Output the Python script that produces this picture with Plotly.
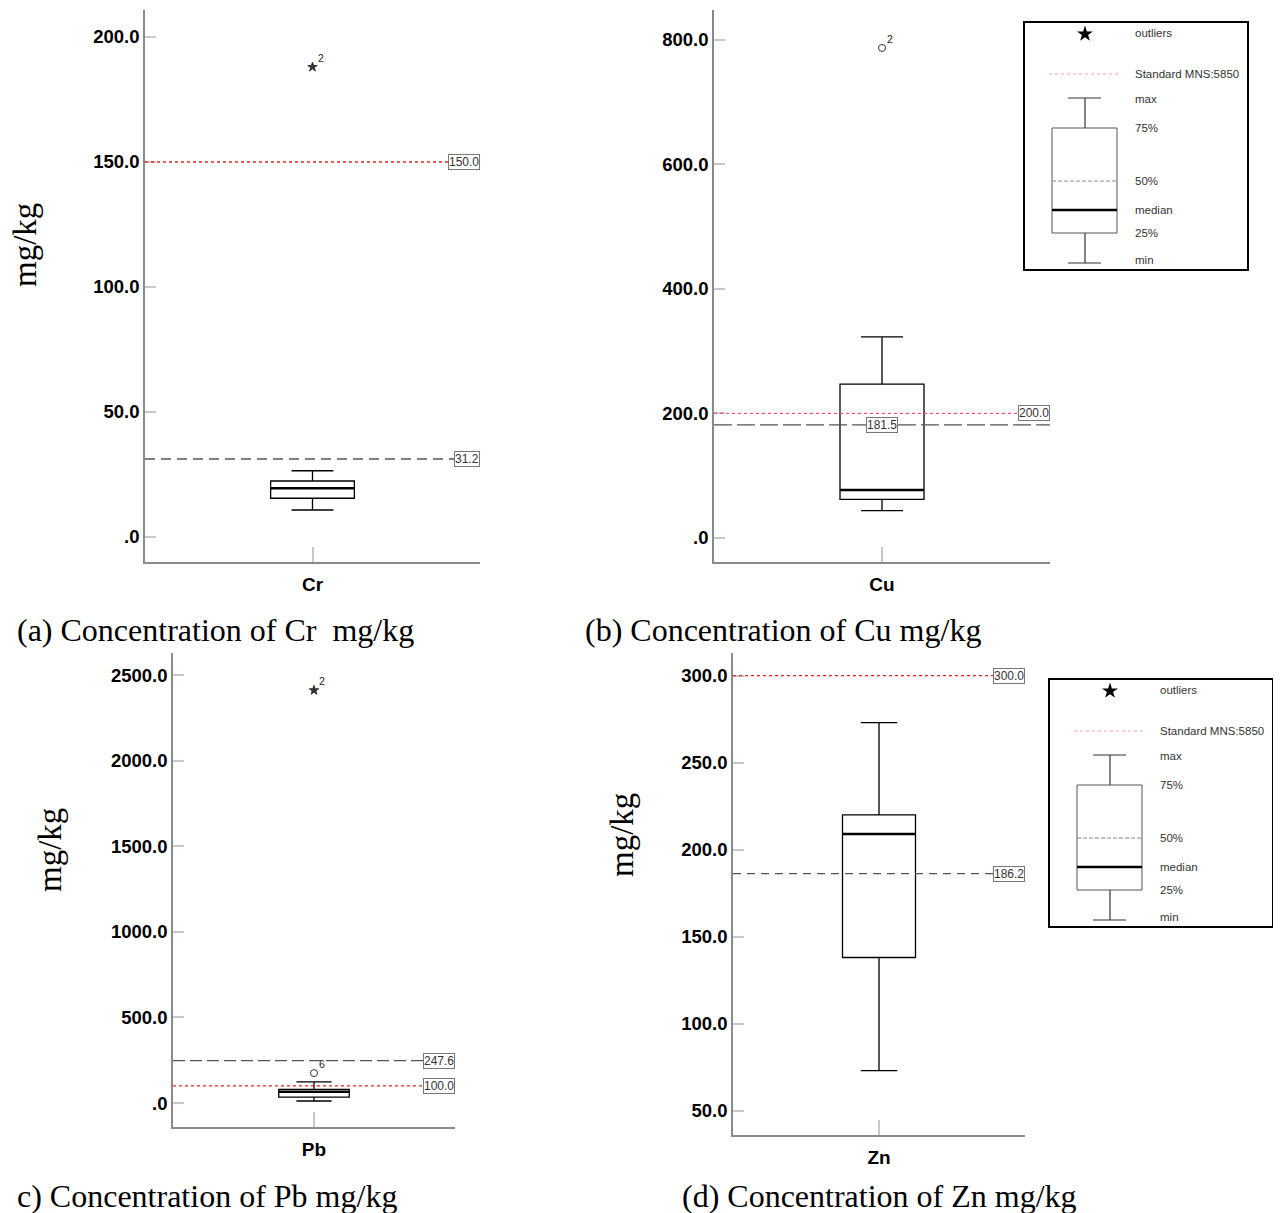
import plotly.graph_objects as go

W, H = 1281, 1213
PAGE_OFFSET = 8  # default body margin of the html page

# ---------------- data ----------------
elements = ["Cr", "Cu", "Pb", "Zn"]
q1_vals = [15.5, 62.0, 35.0, 138.0]
median_vals = [19.5, 77.0, 66.0, 209.0]
q3_vals = [22.4, 247.0, 80.0, 220.0]
lower_vals = [10.8, 44.0, 12.0, 73.0]
upper_vals = [26.5, 323.0, 124.0, 273.0]
standard_vals = [150.0, 200.0, 100.0, 300.0]
mean_vals = [31.2, 181.5, 247.6, 186.2]

cr_outliers = [188.0]
cu_outliers = [787.0]
pb_outliers = [2412.0, 175.0]
zn_outliers = []
outliers = [cr_outliers, cu_outliers, pb_outliers, zn_outliers]
outlier_case_ids = [["2"], ["2"], ["2", "6"], []]
outlier_kinds = [["star"], ["circle"], ["star", "circle"], []]

cr_ticks = [0, 50, 100, 150, 200]
cr_tick_labels = [".0", "50.0", "100.0", "150.0", "200.0"]
cu_ticks = [0, 200, 400, 600, 800]
cu_tick_labels = [".0", "200.0", "400.0", "600.0", "800.0"]
pb_ticks = [0, 500, 1000, 1500, 2000, 2500]
pb_tick_labels = [".0", "500.0", "1000.0", "1500.0", "2000.0", "2500.0"]
zn_ticks = [50, 100, 150, 200, 250, 300]
zn_tick_labels = ["50.0", "100.0", "150.0", "200.0", "250.0", "300.0"]
tick_sets = [(cr_ticks, cr_tick_labels), (cu_ticks, cu_tick_labels),
             (pb_ticks, pb_tick_labels), (zn_ticks, zn_tick_labels)]

captions = ["(a) Concentration of Cr\u00a0\u00a0mg/kg", "(b) Concentration of Cu mg/kg",
            "c) Concentration of Pb mg/kg", "(d) Concentration of Zn mg/kg"]

# ---------------- layout (pixel geometry) ----------------
panels = [
    dict(x=(145, 480), y=(10, 562), yr=(-10.0, 210.8), std_color="#e8201c",
         mean_dash="10px,6px", mean_label_center=False),
    dict(x=(714, 1050), y=(10, 562), yr=(-38.6, 848.0), std_color="#ff4f7b",
         mean_dash="18px,5px", mean_label_center=True),
    dict(x=(173, 455), y=(653, 1127), yr=(-140.0, 2630.0), std_color="#e8201c",
         mean_dash="12px,5px", mean_label_center=False),
    dict(x=(733, 1025), y=(653, 1135), yr=(36.0, 313.0), std_color="#e8201c",
         mean_dash="8px,6px", mean_label_center=False),
]


def px(x):
    return (x - PAGE_OFFSET) / W


def py(y):
    return 1 - (y - PAGE_OFFSET) / H


BOX_W = 0.5
fig = go.Figure()
shapes = []
annotations = []
layout_axes = {}

for i, el in enumerate(elements):
    n = i + 1
    xa = "x" if n == 1 else f"x{n}"
    ya = "y" if n == 1 else f"y{n}"
    p = panels[i]
    fig.add_trace(go.Box(
        x=[0], q1=[q1_vals[i]], median=[median_vals[i]], q3=[q3_vals[i]],
        lowerfence=[lower_vals[i]], upperfence=[upper_vals[i]],
        width=BOX_W, whiskerwidth=0.5, fillcolor="white",
        line=dict(color="black", width=1.3), boxpoints=False,
        xaxis=xa, yaxis=ya, showlegend=False, hoverinfo="skip"))
    # thick median line
    shapes.append(dict(type="line", xref=xa, yref=ya, x0=-BOX_W / 2, x1=BOX_W / 2,
                       y0=median_vals[i], y1=median_vals[i],
                       line=dict(color="black", width=2.6)))
    # outliers
    for v, cid, kind in zip(outliers[i], outlier_case_ids[i], outlier_kinds[i]):
        fig.add_trace(go.Scatter(
            x=[0], y=[v], mode="markers",
            marker=dict(symbol="star" if kind == "star" else "circle-open",
                        size=7, color="#333", line=dict(color="#333", width=1)),
            xaxis=xa, yaxis=ya, showlegend=False, hoverinfo="skip"))
        annotations.append(dict(xref=xa, yref=ya, x=0, y=v, text=cid, showarrow=False,
                                xanchor="left", yanchor="bottom", xshift=3, yshift=1,
                                font=dict(size=10.5, color="#222", family="Liberation Sans")))
    # reference lines
    shapes.append(dict(type="line", xref=f"{xa} domain", yref=ya, x0=0, x1=1,
                       y0=standard_vals[i], y1=standard_vals[i],
                       line=dict(color=p["std_color"], width=1.3, dash="dot")))
    shapes.append(dict(type="line", xref=f"{xa} domain", yref=ya, x0=0, x1=1,
                       y0=mean_vals[i], y1=mean_vals[i],
                       line=dict(color="#555", width=1.3, dash=p["mean_dash"])))
    lbl = dict(yref=ya, showarrow=False, bgcolor="white", bordercolor="#777",
               borderwidth=1, borderpad=0, font=dict(size=12, color="#333", family="Liberation Sans"))
    annotations.append(dict(lbl, xref=f"{xa} domain", x=1, xanchor="right",
                            y=standard_vals[i], text=f"{standard_vals[i]:.1f}"))
    if p["mean_label_center"]:
        annotations.append(dict(lbl, xref=xa, x=0, xanchor="center",
                                y=mean_vals[i], text=f"{mean_vals[i]:.1f}"))
    else:
        annotations.append(dict(lbl, xref=f"{xa} domain", x=1, xanchor="right",
                                y=mean_vals[i], text=f"{mean_vals[i]:.1f}"))

    tv, tt = tick_sets[i]
    axis_common = dict(showline=True, linecolor="#8a8a8a", linewidth=1.5, showgrid=False,
                       zeroline=False, ticks="inside", tickcolor="#c8c8c8", tickwidth=1.5)
    layout_axes["xaxis" if n == 1 else f"xaxis{n}"] = dict(
        axis_common, domain=[px(p["x"][0]), px(p["x"][1])], range=[-1, 1],
        tickvals=[0], ticktext=[el], ticklen=15, anchor=ya,
        tickfont=dict(size=19, color="black", family="Liberation Sans", weight="bold"),
        ticklabelstandoff=4)
    layout_axes["yaxis" if n == 1 else f"yaxis{n}"] = dict(
        axis_common, domain=[py(p["y"][1]), py(p["y"][0])], range=list(p["yr"]),
        tickvals=tv, ticktext=tt, ticklen=11, anchor=xa,
        tickfont=dict(size=18.5, color="black", family="Liberation Sans", weight="bold"))

# overlay (pixel) axes for the explanatory key symbols
layout_axes["xaxis5"] = dict(domain=[0, 1], range=[PAGE_OFFSET, W + PAGE_OFFSET], visible=False,
                             anchor="y5", fixedrange=True)
layout_axes["yaxis5"] = dict(domain=[0, 1], range=[H + PAGE_OFFSET, PAGE_OFFSET], visible=False,
                             anchor="x5", fixedrange=True)

# captions
cap_pos = [(15, 630), (583, 630), (15, 1196), (680, 1196)]
for (cx, cy), txt in zip(cap_pos, captions):
    annotations.append(dict(xref="paper", yref="paper", x=px(cx), y=py(cy), xanchor="left",
                            yanchor="middle", text=txt, showarrow=False,
                            font=dict(family="Liberation Serif", size=32, color="black")))
# y titles
for tx, ty in [(25, 245), (50, 850), (622, 835)]:
    annotations.append(dict(xref="paper", yref="paper", x=px(tx), y=py(ty), xanchor="center",
                            yanchor="middle", text="mg/kg", textangle=-90, showarrow=False,
                            font=dict(family="Liberation Serif", size=33, color="black")))


# legend panels (explanatory keys)
key_offsets = [(0, 0), (25, 657)]


def legend_key(ox, oy):
    L = lambda x: px(x + ox)
    T = lambda y: py(y + oy)
    shapes.append(dict(type="rect", xref="paper", yref="paper", x0=L(1024), x1=L(1248),
                       y0=T(270), y1=T(22), line=dict(color="black", width=2)))
    shapes.append(dict(type="line", xref="paper", yref="paper", x0=L(1049), x1=L(1118),
                       y0=T(74), y1=T(74), line=dict(color="#f7a0a8", width=1, dash="dot")))
    # mini box
    seg = lambda x0, y0, x1, y1, w=1.2, c="#333", d="solid": shapes.append(
        dict(type="line", xref="paper", yref="paper", x0=L(x0), x1=L(x1), y0=T(y0), y1=T(y1),
             line=dict(color=c, width=w, dash=d)))
    seg(1068, 98, 1101, 98)
    seg(1085, 98, 1085, 128)
    shapes.append(dict(type="rect", xref="paper", yref="paper", x0=L(1052), x1=L(1117),
                       y0=T(233), y1=T(128), line=dict(color="#555", width=1)))
    seg(1052, 181, 1117, 181, 1, "#888", "4px,2px")
    seg(1052, 210, 1117, 210, 2.4, "black")
    seg(1085, 233, 1085, 263)
    seg(1068, 263, 1101, 263)
    for txt, yy in [("outliers", 33), ("Standard MNS:5850", 74), ("max", 99), ("75%", 128),
                    ("50%", 181), ("median", 210), ("25%", 233), ("min", 260)]:
        annotations.append(dict(xref="paper", yref="paper", x=L(1133), y=T(yy), xanchor="left",
                                yanchor="middle", text=txt, showarrow=False,
                                font=dict(size=11.5, color="#333", family="Liberation Sans")))


for ox, oy in key_offsets:
    legend_key(ox, oy)

fig.add_trace(go.Scatter(
    x=[1085 + ox for ox, oy in key_offsets], y=[34 + oy for ox, oy in key_offsets],
    mode="markers", marker=dict(symbol="star", size=12, color="black"),
    xaxis="x5", yaxis="y5", showlegend=False, hoverinfo="skip"))

fig.update_layout(width=W, height=H, margin=dict(l=0, r=0, t=0, b=0),
                  plot_bgcolor="rgba(0,0,0,0)", paper_bgcolor="white",
                  shapes=shapes, annotations=annotations, showlegend=False, **layout_axes)
fig.write_html("out.html")
